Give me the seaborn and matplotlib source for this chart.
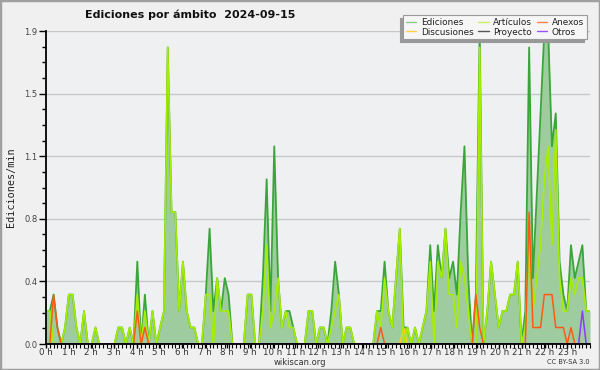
import numpy as np
import pandas as pd
import matplotlib
matplotlib.use("Agg")
import matplotlib.pyplot as plt
import seaborn as sns
from matplotlib.lines import Line2D
from matplotlib.patches import Rectangle

# ---- data: edits per minute, one value per 10-minute slot (144 slots) ----
ediciones = [
    0.2, 0.2, 0.3, 0.1, 0, 0.1, 0.3, 0.3, 0.1, 0, 0.2, 0,
    0, 0.1, 0, 0, 0, 0, 0, 0.1, 0.1, 0, 0.1, 0,
    0.5, 0, 0.3, 0, 0.2, 0, 0.1, 0.2, 1.8, 0.8, 0.8, 0.2,
    0.5, 0.2, 0.1, 0.1, 0, 0, 0.3, 0.7, 0.2, 0.4, 0.2, 0.4,
    0.3, 0, 0, 0, 0, 0.3, 0.3, 0, 0, 0.4, 1.0, 0.2,
    1.2, 0.4, 0.1, 0.2, 0.2, 0.1, 0, 0, 0, 0.2, 0.2, 0,
    0.1, 0.1, 0, 0.2, 0.5, 0.3, 0, 0.1, 0.1, 0, 0, 0,
    0, 0, 0, 0.2, 0.2, 0.5, 0.2, 0.1, 0.4, 0.7, 0.1, 0.1,
    0, 0.1, 0, 0.1, 0.2, 0.6, 0.2, 0.6, 0.4, 0.7, 0.4, 0.5,
    0.3, 0.8, 1.2, 0.4, 0, 0.3, 1.9, 0, 0.2, 0.5, 0.3, 0.1,
    0.2, 0.2, 0.3, 0.3, 0.5, 0, 0.2, 1.8, 0.4, 0.9, 1.4, 1.9,
    1.9, 1.2, 1.4, 0.5, 0.3, 0.2, 0.6, 0.4, 0.5, 0.6, 0.2, 0.2,
]
articulos = [
    0.2, 0.2, 0, 0, 0, 0.1, 0.3, 0.3, 0.1, 0, 0.2, 0,
    0, 0.1, 0, 0, 0, 0, 0, 0.1, 0.1, 0, 0.1, 0,
    0.3, 0, 0.2, 0, 0.2, 0, 0.1, 0.2, 1.8, 0.8, 0.8, 0.2,
    0.5, 0.2, 0.1, 0.1, 0, 0, 0.3, 0.3, 0, 0.4, 0.2, 0.2,
    0.2, 0, 0, 0, 0, 0.3, 0.3, 0, 0, 0.2, 0.6, 0.1,
    0.2, 0.4, 0.1, 0.2, 0.1, 0.1, 0, 0, 0, 0.2, 0.2, 0,
    0.1, 0.1, 0, 0.1, 0.2, 0.3, 0, 0.1, 0.1, 0, 0, 0,
    0, 0, 0, 0.2, 0.1, 0.4, 0.2, 0.1, 0.4, 0.7, 0, 0.1,
    0, 0.1, 0, 0.1, 0.2, 0.5, 0, 0.5, 0.4, 0.7, 0.3, 0.3,
    0.1, 0.5, 0.4, 0.2, 0, 0, 1.8, 0, 0.2, 0.5, 0.3, 0.1,
    0.2, 0.2, 0.3, 0.3, 0.5, 0, 0.1, 0.6, 0.2, 0.4, 0.6, 1.0,
    1.2, 0.6, 1.3, 0.4, 0.2, 0.2, 0.4, 0.3, 0.4, 0.4, 0.2, 0.2,
]
anexos = [
    0, 0, 0.3, 0.1, 0, 0, 0, 0, 0, 0, 0, 0,
    0, 0, 0, 0, 0, 0, 0, 0, 0, 0, 0, 0,
    0.2, 0, 0.1, 0, 0, 0, 0, 0, 0, 0, 0, 0,
    0, 0, 0, 0, 0, 0, 0, 0, 0, 0, 0, 0,
    0, 0, 0, 0, 0, 0, 0, 0, 0, 0, 0, 0,
    0, 0, 0, 0, 0, 0, 0, 0, 0, 0, 0, 0,
    0, 0, 0, 0, 0, 0, 0, 0, 0, 0, 0, 0,
    0, 0, 0, 0, 0.1, 0, 0, 0, 0, 0, 0, 0,
    0, 0, 0, 0, 0, 0, 0, 0, 0, 0, 0, 0,
    0, 0, 0, 0, 0, 0.3, 0.1, 0, 0, 0, 0, 0,
    0, 0, 0, 0, 0, 0, 0, 0.8, 0.1, 0.1, 0.1, 0.3,
    0.3, 0.3, 0.1, 0.1, 0.1, 0, 0.1, 0, 0, 0, 0, 0,
]
discusiones = [
    0, 0, 0, 0, 0, 0, 0, 0, 0, 0, 0, 0,
    0, 0, 0, 0, 0, 0, 0, 0, 0, 0, 0, 0,
    0, 0, 0, 0, 0, 0, 0, 0, 0, 0, 0, 0,
    0, 0, 0, 0, 0, 0, 0, 0, 0, 0, 0, 0,
    0, 0, 0, 0, 0, 0, 0, 0, 0, 0, 0, 0,
    0, 0, 0, 0, 0, 0, 0, 0, 0, 0, 0, 0,
    0, 0, 0, 0, 0, 0, 0, 0, 0, 0, 0, 0,
    0, 0, 0, 0, 0, 0, 0, 0, 0, 0, 0.1, 0,
    0, 0, 0, 0, 0, 0, 0, 0, 0, 0, 0, 0,
    0, 0, 0, 0, 0, 0, 0, 0, 0, 0, 0, 0,
    0, 0, 0, 0, 0, 0, 0, 0, 0, 0, 0, 0,
    0, 0, 0, 0, 0, 0, 0, 0, 0, 0, 0, 0,
]
proyecto = [0.0] * 144
otros = [
    0, 0, 0, 0, 0, 0, 0, 0, 0, 0, 0, 0,
    0, 0, 0, 0, 0, 0, 0, 0, 0, 0, 0, 0,
    0, 0, 0, 0, 0, 0, 0, 0, 0, 0, 0, 0,
    0, 0, 0, 0, 0, 0, 0, 0, 0, 0, 0, 0,
    0, 0, 0, 0, 0, 0, 0, 0, 0, 0, 0, 0,
    0, 0, 0, 0, 0, 0, 0, 0, 0, 0, 0, 0,
    0, 0, 0, 0, 0, 0, 0, 0, 0, 0, 0, 0,
    0, 0, 0, 0, 0, 0, 0, 0, 0, 0, 0, 0,
    0, 0, 0, 0, 0, 0, 0, 0, 0, 0, 0, 0,
    0, 0, 0, 0, 0, 0, 0, 0, 0, 0, 0, 0,
    0, 0, 0, 0, 0, 0, 0, 0, 0, 0, 0, 0,
    0, 0, 0, 0, 0, 0, 0, 0, 0, 0.2, 0, 0,
]
hour_labels = [f"{h} h" for h in range(24)]
title = "Ediciones por ámbito  2024-09-15"
ylabel = "Ediciones/min"

slot = np.arange(len(ediciones))
df = pd.DataFrame({
    "slot": slot, "Ediciones": ediciones, "Artículos": articulos,
    "Anexos": anexos, "Discusiones": discusiones,
    "Proyecto": proyecto, "Otros": otros,
})

colors = {
    "Ediciones": "#3aa63a", "Artículos": "#a6ee00", "Anexos": "#ff5a14",
    "Discusiones": "#ffcc22", "Proyecto": "#555555", "Otros": "#8a3cff",
}
legend_colors = {
    "Ediciones": "#88cc88", "Artículos": "#c8f060", "Anexos": "#ff8050",
    "Discusiones": "#ffd040", "Proyecto": "#555555", "Otros": "#9a50ff",
}

sns.set_theme(style="white")
plt.rcParams["font.family"] = ["DejaVu Sans"]

fig = plt.figure(figsize=(6, 3.7), dpi=100, facecolor="#f0f0f0")
ax = fig.add_axes([46 / 600, 1 - 344 / 370, 544 / 600, 313 / 370])
ax.set_facecolor("#eef0f2")

n = len(ediciones)
ax.fill_between(df["slot"], 0, df["Ediciones"], color="#9fcc9f", lw=0, zorder=1)
sns.lineplot(data=df, x="slot", y="Ediciones", ax=ax, color=colors["Ediciones"],
             lw=1.3, legend=False, zorder=2)
for name in ["Proyecto", "Discusiones"]:
    sns.lineplot(data=df, x="slot", y=name, ax=ax, color=colors[name],
                 lw=1.1, legend=False, zorder=3)
sns.lineplot(data=df, x="slot", y="Artículos", ax=ax, color=colors["Artículos"],
             lw=1.2, legend=False, zorder=3)
sns.lineplot(data=df, x="slot", y="Anexos", ax=ax, color=colors["Anexos"],
             lw=1.1, legend=False, zorder=3)
sns.lineplot(data=df, x="slot", y="Otros", ax=ax, color=colors["Otros"],
             lw=1.1, legend=False, zorder=3)

ymax = max(ediciones)
ax.set_xlim(0, n - 1)
ax.set_ylim(0, ymax)
ymaj = np.linspace(0, ymax, 6)
ax.set_yticks(ymaj)
ax.set_yticklabels([f"{v:.1f}" for v in ymaj])
ax.set_yticks(np.linspace(0, ymax, 21), minor=True)
hpos = np.arange(24) * (n - 1) / 24
ax.set_xticks(hpos)
ax.set_xticklabels(hour_labels)
ax.set_xticks(slot, minor=True)

ax.grid(axis="y", which="major", color="#c8c8c8", lw=1.0)
ax.grid(axis="x", visible=False)
ax.set_axisbelow(True)
for s in ["top", "right"]:
    ax.spines[s].set_visible(False)
for s in ["left", "bottom"]:
    ax.spines[s].set_color("black")
    ax.spines[s].set_linewidth(1.3)
    ax.spines[s].set_zorder(5)

ax.tick_params(axis="y", which="major", length=5, width=1, color="black",
               labelsize=6, labelcolor="#444444", pad=1, left=True)
ax.tick_params(axis="y", which="minor", length=3, width=1, color="black", left=True)
ax.tick_params(axis="x", which="major", length=3, width=1, color="black",
               labelsize=6.2, labelcolor="#333333", pad=0, bottom=True)
ax.tick_params(axis="x", which="minor", length=3, width=0.8, color="black", bottom=True)

ax.set_xlabel("")
ax.set_ylabel(ylabel, family="DejaVu Sans Mono", fontsize=7.3, color="#222222")
ax.yaxis.set_label_coords(-0.056, 0.5)

fig.text(85 / 600, 1 - 15 / 370, title, fontsize=8.0, fontweight="bold",
         color="#111111", ha="left", va="center")
fig.text(300 / 600, 1 - 362.5 / 370, "wikiscan.org", fontsize=6.0, color="#333333",
         ha="center", va="center")
fig.text(590 / 600, 1 - 362.5 / 370, "CC BY-SA 3.0", fontsize=4.8, color="#333333",
         ha="right", va="center")

order = ["Ediciones", "Discusiones", "Artículos", "Proyecto", "Anexos", "Otros"]
handles = [Line2D([0], [0], color=legend_colors[k], lw=1.0) for k in order]
leg = fig.legend(handles, order, loc="upper right",
                 bbox_to_anchor=(591 / 600, 1 - 11 / 370), bbox_transform=fig.transFigure,
                 ncol=3, fontsize=6.4, handlelength=1.2, handletextpad=0.5,
                 columnspacing=0.5, labelspacing=0.05, borderpad=0.3,
                 frameon=True, fancybox=False, framealpha=1,
                 shadow={"ox": -2, "oy": -2, "color": "#999999", "alpha": 1})
leg.get_frame().set_facecolor("#f6f6f6")
leg.get_frame().set_edgecolor("#999999")
leg.get_frame().set_linewidth(0.8)
for t in leg.get_texts():
    t.set_color("#222222")

fig.patches.append(Rectangle((0, 0), 1, 1, transform=fig.transFigure, fill=False,
                             edgecolor="#a0a0a0", lw=2.5))

fig.savefig("out.png", dpi=100, facecolor=fig.get_facecolor())
